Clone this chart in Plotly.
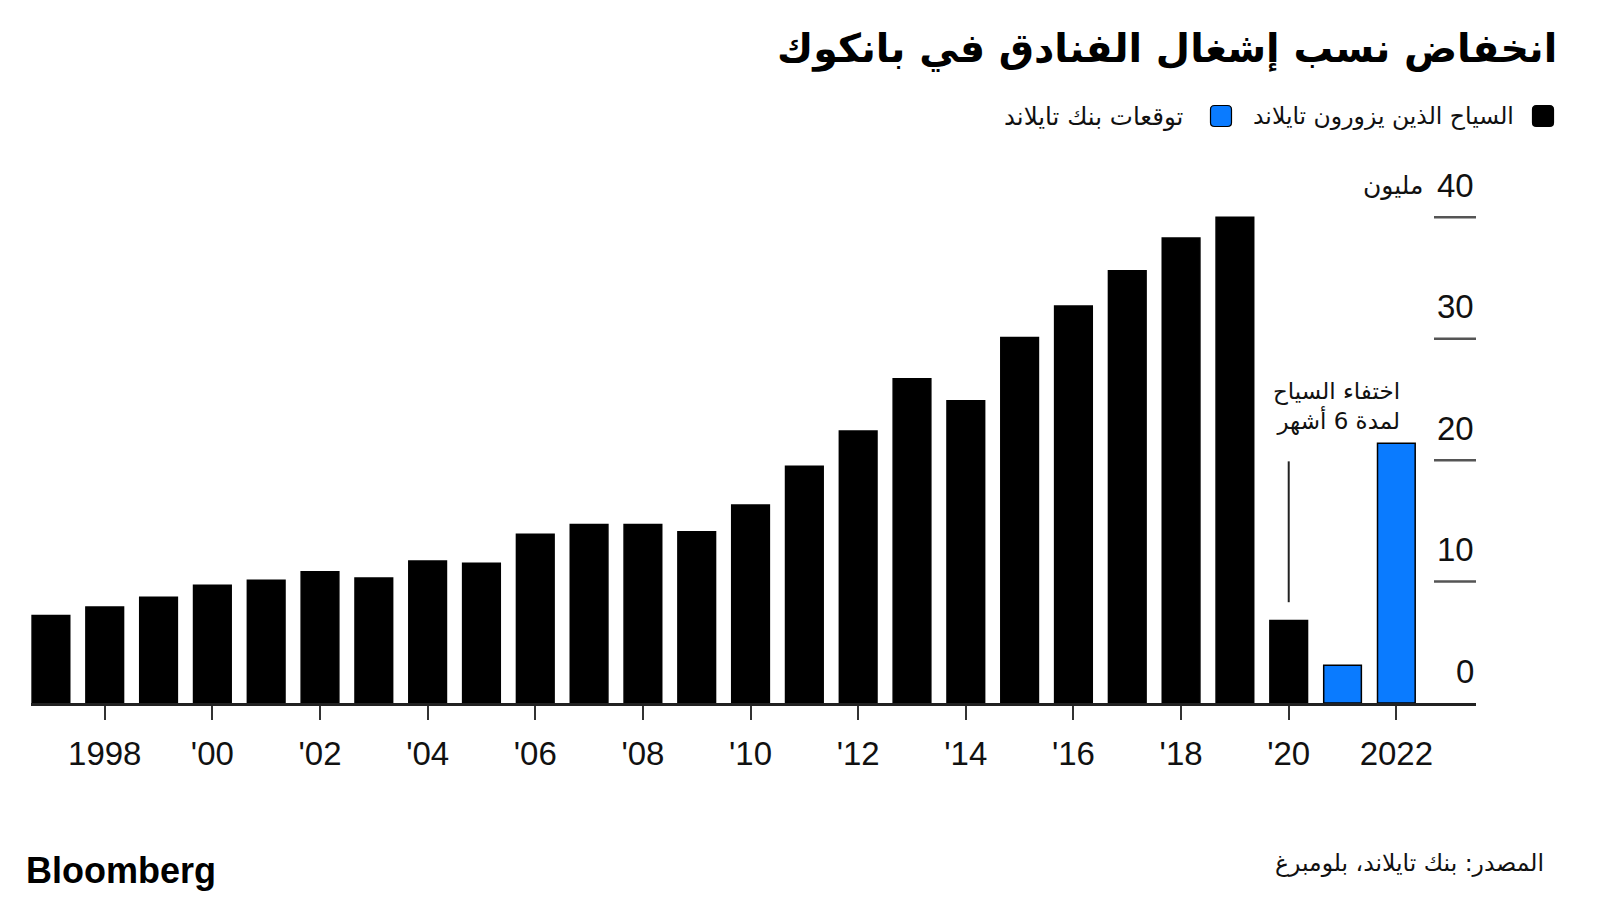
import plotly.graph_objects as go

# ---- data ----
years_actual = list(range(1997, 2021))
tourists = [7.2, 7.9, 8.7, 9.7, 10.1, 10.8, 10.3, 11.7, 11.5, 13.9, 14.7, 14.7,
            14.1, 16.3, 19.5, 22.4, 26.7, 24.9, 30.1, 32.7, 35.6, 38.3, 40.0, 6.8]
years_forecast = [2021, 2022]
forecast = [3.1, 21.4]

x_tickvals = list(range(1998, 2023, 2))
x_ticktext = ["1998", "'00", "'02", "'04", "'06", "'08", "'10", "'12", "'14",
              "'16", "'18", "'20", "2022"]
y_tickvals = [0, 10, 20, 30, 40]

title_text = "انخفاض نسب إشغال الفنادق في بانكوك"
legend_actual = "السياح الذين يزورون تايلاند"
legend_forecast = "توقعات بنك تايلاند"
unit_text = "مليون"
note_text = "اختفاء السياح<br>لمدة 6 أشهر"
note_x, note_y = 2020, [8.3, 19.9]
source_text = "المصدر: بنك تايلاند، بلومبرغ"

BLACK = "#000000"
BLUE = "#0A7BFF"
AR_FONT = "DejaVu Sans"
NUM_FONT = "Liberation Sans, Arial, sans-serif"

W, H = 1600, 900
L, R, T, B = 31, 124, 193, 197
PW, PH = W - L - R, H - T - B


def px(x):
    return (x - L) / PW


def py(y):
    return (H - B - y) / PH


fig = go.Figure()
fig.add_trace(go.Bar(x=years_actual, y=tourists, marker=dict(color=BLACK, line=dict(color="#000", width=1.5)),
                     name=legend_actual, showlegend=False))
fig.add_trace(go.Bar(x=years_forecast, y=forecast, marker=dict(color=BLUE, line=dict(color="#000", width=1.5)),
                     name=legend_forecast, showlegend=False))

shapes = []
annotations = []

# y tick lines and labels (labels above the tick lines)
for v in y_tickvals[1:]:
    shapes.append(dict(type="line", xref="paper", yref="y", x0=px(1434), x1=1.0, y0=v, y1=v,
                       line=dict(color="#555555", width=2.5)))
for v in y_tickvals:
    annotations.append(dict(xref="paper", yref="y", x=1.0, y=v, yshift=32, xanchor="right", yanchor="middle",
                            text=str(v), showarrow=False, font=dict(family=NUM_FONT, size=33, color="#111")))
annotations.append(dict(xref="paper", yref="y", x=px(1426), y=y_tickvals[-1], yshift=32, xanchor="right",
                        yanchor="middle", text=unit_text, showarrow=False,
                        font=dict(family=AR_FONT, size=25, color="#111")))

# annotation note + line
shapes.append(dict(type="line", xref="x", yref="y", x0=note_x, x1=note_x, y0=note_y[0], y1=note_y[1],
                   line=dict(color="#222", width=2)))
annotations.append(dict(xref="x", yref="y", x=2022.1, y=24.4, xanchor="right", yanchor="middle", align="right",
                        text=note_text, showarrow=False, font=dict(family=AR_FONT, size=23, color="#111")))

# title
annotations.append(dict(xref="paper", yref="paper", x=px(1559), y=py(49), xanchor="right", yanchor="middle",
                        text="<b>" + title_text + "</b>", showarrow=False,
                        font=dict(family=AR_FONT, size=39.5, color="#000")))

# legend (custom, RTL)
def rounded_square(cx, cy, color, s=10.5, r=4):
    path = (f"M {-s + r} {-s} L {s - r} {-s} Q {s} {-s} {s} {-s + r} L {s} {s - r} Q {s} {s} {s - r} {s} "
            f"L {-s + r} {s} Q {-s} {s} {-s} {s - r} L {-s} {-s + r} Q {-s} {-s} {-s + r} {-s} Z")
    return dict(type="path", xref="paper", yref="paper", xsizemode="pixel", ysizemode="pixel",
                xanchor=px(cx), yanchor=py(cy), path=path, fillcolor=color,
                line=dict(color="#000", width=1.2))

shapes.append(rounded_square(1543, 116, BLACK))
shapes.append(rounded_square(1221, 116, BLUE))
annotations.append(dict(xref="paper", yref="paper", x=px(1516), y=py(116), xanchor="right", yanchor="middle",
                        text=legend_actual, showarrow=False, font=dict(family=AR_FONT, size=23.5, color="#111")))
annotations.append(dict(xref="paper", yref="paper", x=px(1185), y=py(116), xanchor="right", yanchor="middle",
                        text=legend_forecast, showarrow=False, font=dict(family=AR_FONT, size=24.5, color="#111")))

# footer
annotations.append(dict(xref="paper", yref="paper", x=px(24), y=py(870), xanchor="left", yanchor="middle",
                        text="<b>Bloomberg</b>", showarrow=False,
                        font=dict(family=NUM_FONT, size=36, color="#000")))
annotations.append(dict(xref="paper", yref="paper", x=px(1546), y=py(863), xanchor="right", yanchor="middle",
                        text=source_text, showarrow=False, font=dict(family=AR_FONT, size=23.5, color="#111")))

fig.update_layout(
    width=W, height=H,
    margin=dict(l=L, r=R, t=T, b=B),
    paper_bgcolor="white", plot_bgcolor="white",
    barmode="overlay", bargap=0.30,
    shapes=shapes, annotations=annotations,
    showlegend=False,
    xaxis=dict(range=[1996.63, 2023.48], tickvals=x_tickvals, ticktext=x_ticktext,
               showgrid=False, zeroline=False, showline=True, linecolor="#222", linewidth=2.5,
               ticks="outside", ticklen=14, tickwidth=2, tickcolor="#333",
               ticklabelstandoff=6,
               tickfont=dict(family=NUM_FONT, size=33, color="#111")),
    yaxis=dict(range=[0, 42], showgrid=False, zeroline=False, showticklabels=False, showline=False),
)

fig.write_html("out.html")
